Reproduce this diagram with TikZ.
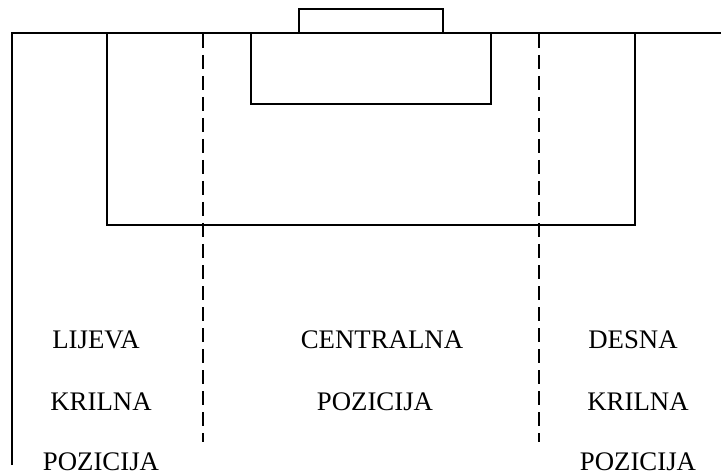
\documentclass[tikz,border=0pt]{standalone}
\usepackage{fontspec}
\setmainfont{Liberation Serif}
\usepackage{tikz}
\usetikzlibrary{positioning}

\begin{document}
\begin{tikzpicture}[
    x=1pt, y=-1pt,
    pitch/.style={draw, line width=2pt, line join=miter},
    zone/.style={draw, line width=1.4pt, dash pattern=on 14pt off 7pt},
    label/.style={anchor=base, inner sep=0pt, font=\fontsize{26.8}{30}\selectfont}
]
    \useasboundingbox (0,0) rectangle (721,476);

    % Goal and lines
    \draw[pitch] (299,33) -- (299,9) -- (443,9) -- (443,33);
    \draw[pitch] (12,465) -- (12,33) -- (721,33);
    \draw[pitch] (107,33) -- (107,225) -- (635,225) -- (635,33);
    \draw[pitch] (251,33) -- (251,104) -- (491,104) -- (491,33);

    % Zone borders
    \draw[zone] (203,34) -- (203,442);
    \draw[zone] (539,34) -- (539,442);

    % Left wing
    \node[label] (lijeva) at (96,348) {LIJEVA};
    \node[label] (lkrilna) at (101,410) {KRILNA};
    \node[label] (lpozicija) at (101,470) {POZICIJA};

    % Centre
    \node[label] (centralna) at (382,348) {CENTRALNA};
    \node[label] (cpozicija) at (375,410) {POZICIJA};

    % Right wing
    \node[label] (desna) at (633,348) {DESNA};
    \node[label] (dkrilna) at (638,410) {KRILNA};
    \node[label] (dpozicija) at (638,470) {POZICIJA};
\end{tikzpicture}
\end{document}
